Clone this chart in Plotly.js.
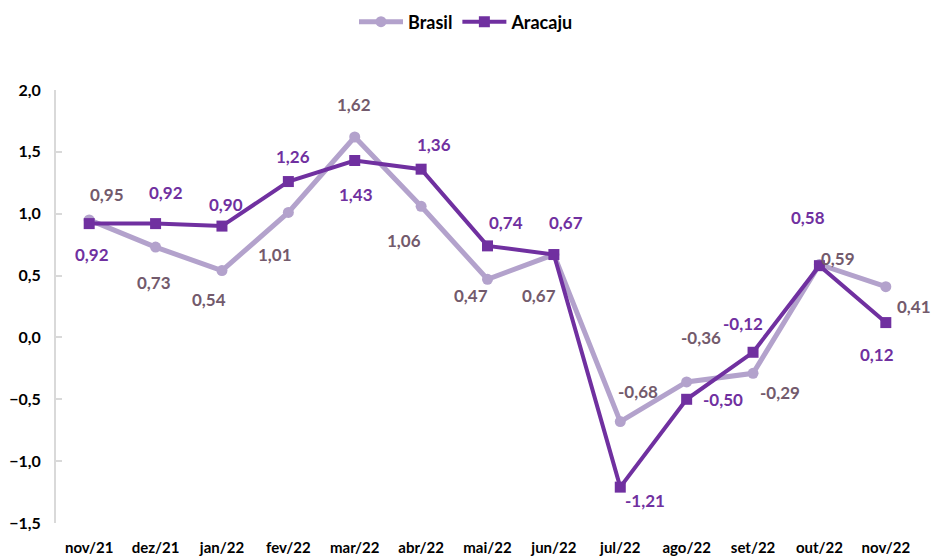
<!DOCTYPE html>
<html><head><meta charset="utf-8">
<script src="https://cdn.plot.ly/plotly-3.0.1.min.js"></script>
<style>html,body{margin:0;padding:0;background:#fff}#chart{width:933px;height:559px}</style>
</head><body><div id="chart"></div>
<script>
const months = ["nov/21","dez/21","jan/22","fev/22","mar/22","abr/22","mai/22","jun/22","jul/22","ago/22","set/22","out/22","nov/22"];
const brasil = [0.95,0.73,0.54,1.01,1.62,1.06,0.47,0.67,-0.68,-0.36,-0.29,0.59,0.41];
const aracaju = [0.92,0.92,0.90,1.26,1.43,1.36,0.74,0.67,-1.21,-0.50,-0.12,0.58,0.12];
const yTicks = [-1.5,-1.0,-0.5,0,0.5,1.0,1.5,2.0];

// label offsets (pixels) – style only
const brOff = [[18,25],[-2,-35],[-13,-29],[-13,-42],[-1,33],[-17,-34],[-17,-16],[-15,-41],[18,30],[14,44],[27,-19],[19,6],[28,-20]];
const arOff = [[3,-31],[10,31],[4,22],[5,25],[1,-34],[13,25],[18,23],[12,32],[25,-13],[36,0],[-10,29],[-11,48],[-9,-32]];

const FONT = "Lato, 'Open Sans', sans-serif";
const cBr = "#B3A2CC", cAr = "#7030A0";
const lBr = "#735A6C", lAr = "#7030A0";

const fmt = v => v.toFixed(2).replace('.', ',');
const ann = [];
months.forEach((m,i)=>{
  ann.push({x:m,y:brasil[i],xref:'x',yref:'y',text:fmt(brasil[i]),showarrow:false,xshift:brOff[i][0],yshift:brOff[i][1],font:{family:FONT,size:17,color:lBr,weight:700}});
  ann.push({x:m,y:aracaju[i],xref:'x',yref:'y',text:fmt(aracaju[i]),showarrow:false,xshift:arOff[i][0],yshift:arOff[i][1],font:{family:FONT,size:17,color:lAr,weight:700}});
});

const traces = [
  {x:months,y:brasil,name:'Brasil',type:'scatter',mode:'lines+markers',line:{color:cBr,width:5},marker:{symbol:'circle',size:11,color:cBr}},
  {x:months,y:aracaju,name:'Aracaju',type:'scatter',mode:'lines+markers',line:{color:cAr,width:4},marker:{symbol:'square',size:11,color:cAr}}
];

const layout = {
  width:933,height:559,
  margin:{l:56,r:14,t:90,b:36},
  paper_bgcolor:'#fff',plot_bgcolor:'#fff',
  separators:',.',
  font:{family:FONT,color:'#000'},
  showlegend:true,
  legend:{orientation:'h',x:0.5,xanchor:'center',xref:'container',y:1-22/559,yanchor:'middle',yref:'container',font:{family:FONT,size:18,color:'#000',weight:700},itemwidth:44,tracegroupgap:0},
  xaxis:{type:'category',range:[-0.5,12.5],showgrid:false,zeroline:false,showline:false,ticks:'',tickfont:{family:FONT,size:15,color:'#000',weight:700},ticklabelstandoff:14,fixedrange:true},
  xaxis2:{overlaying:'x',anchor:'free',position:1.5/3.5,range:[-0.5,12.5],showgrid:false,zeroline:false,showline:true,linecolor:'#d9d9d9',linewidth:2,ticks:'inside',ticklen:6,tickcolor:'#d9d9d9',tickwidth:2,tickmode:'array',tickvals:[0.5,1.5,2.5,3.5,4.5,5.5,6.5,7.5,8.5,9.5,10.5,11.5,12.5],showticklabels:false},
  yaxis:{range:[-1.5,2.0],tickvals:yTicks,tickformat:'.1f',showgrid:false,zeroline:false,showline:true,linecolor:'#d9d9d9',linewidth:2,ticks:'inside',ticklen:6,tickcolor:'#d9d9d9',tickwidth:2,tickfont:{family:FONT,size:16,color:'#000',weight:700},ticklabelstandoff:10},
  annotations:ann
};
Plotly.newPlot('chart',traces,layout,{displayModeBar:false,staticPlot:true});
</script></body></html>
